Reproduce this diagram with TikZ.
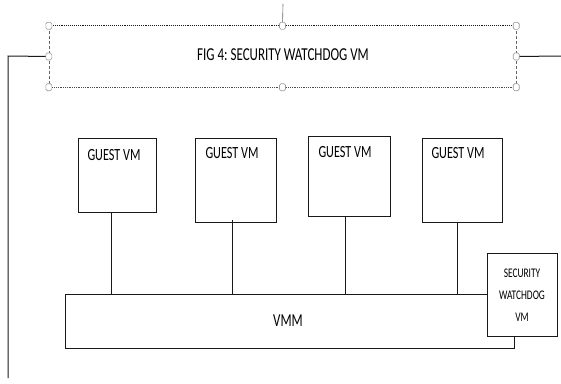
\documentclass[tikz,border=0pt]{standalone}
\usepackage{fontspec}
\usepackage{graphicx}
\setmainfont{Carlito}
\frenchspacing
\usetikzlibrary{calc}
\newcommand{\tall}[1]{\scalebox{1}[1.4]{#1}}
\tikzset{
  wire/.style={draw=black!90, line width=1pt},
  vmbox/.style={draw=black!90, line width=1pt, fill=white, inner sep=0pt},
  lbl/.style={inner sep=0pt, font=\fontsize{13}{15}\selectfont},
  glbl/.style={inner sep=0pt, font=\fontsize{12.2}{15}\selectfont},
  handle/.style={draw=black!40, fill=white, rounded corners=1.5pt, minimum width=6pt, minimum height=7pt, inner sep=0pt, line width=0.6pt},
}
\begin{document}
\begin{tikzpicture}[x=1pt,y=-1pt]
\useasboundingbox (0,0) rectangle (561,383);
% title box
\node[inner sep=0pt, minimum width=467pt, minimum height=61pt] (title) at (282.5,56.5) {};
\draw[black!90, line width=1.1pt, densely dotted] (title.north west) -- (title.north east);
\draw[black!70, line width=0.8pt, densely dotted] (title.south west) -- (title.south east);
\draw[black!60, line width=0.6pt, densely dashed] (title.north west) -- (title.south west);
\draw[black!60, line width=0.6pt, densely dashed] (title.north east) -- (title.south east);
\node[lbl] (ttext) at (283,55) {\tall{FIG 4: SECURITY WATCHDOG VM}};
% outer connector lines
\coordinate (topend) at (283,4);
\coordinate (lcorner) at (8,56);
\coordinate (lend) at (8,378);
\coordinate (rend) at (561,56);
\draw[wire] (title.west) -- (lcorner) -- (lend);
\draw[wire] (title.east) -- (rend);
\draw[black!60, line width=0.6pt] (title.north) -- (topend);
% handles
\foreach \a in {north west,north,north east,west,east,south west,south,south east}
  \node[handle] at (title.\a) {};
% guest VMs
\node[vmbox, minimum width=78pt, minimum height=74pt] (g1) at (117,175) {};
\node[vmbox, minimum width=81pt, minimum height=84pt] (g2) at (235.5,180) {};
\node[vmbox, minimum width=82pt, minimum height=80pt] (g3) at (349,176) {};
\node[vmbox, minimum width=80pt, minimum height=84pt] (g4) at (462,180) {};
\node[glbl] (t1) at (114,155) {\tall{GUEST VM}};
\node[glbl] (t2) at (232,153) {\tall{GUEST VM}};
\node[glbl] (t3) at (345,152) {\tall{GUEST VM}};
\node[glbl] (t4) at (458,153) {\tall{GUEST VM}};
% VMM
\node[vmbox, minimum width=449pt, minimum height=54pt] (vmm) at (289.5,321) {};
\node[lbl] (vtext) at (288,321) {\tall{VMM}};
% connectors
\draw[wire] ([xshift=-6pt]g1.south) -- ([xshift=-6pt]g1.south |- vmm.north);
\draw[wire] ([xshift=-3.5pt,yshift=3pt]g2.south) -- ([xshift=-3.5pt]g2.south |- vmm.north);
\draw[wire] ([xshift=-4pt]g3.south) -- ([xshift=-4pt]g3.south |- vmm.north);
\draw[wire] ([xshift=-5pt,yshift=1pt]g4.south) -- ([xshift=-5pt]g4.south |- vmm.north);
% security watchdog VM
\node[vmbox, minimum width=70pt, minimum height=83pt] (sw) at (522,294.5) {};
\node[inner sep=0pt, align=center, font=\fontsize{9.4}{22}\selectfont] (swtext) at (522,295) {\tall{SECURITY}\\\tall{WATCHDOG}\\\tall{VM}};
\end{tikzpicture}
\end{document}
